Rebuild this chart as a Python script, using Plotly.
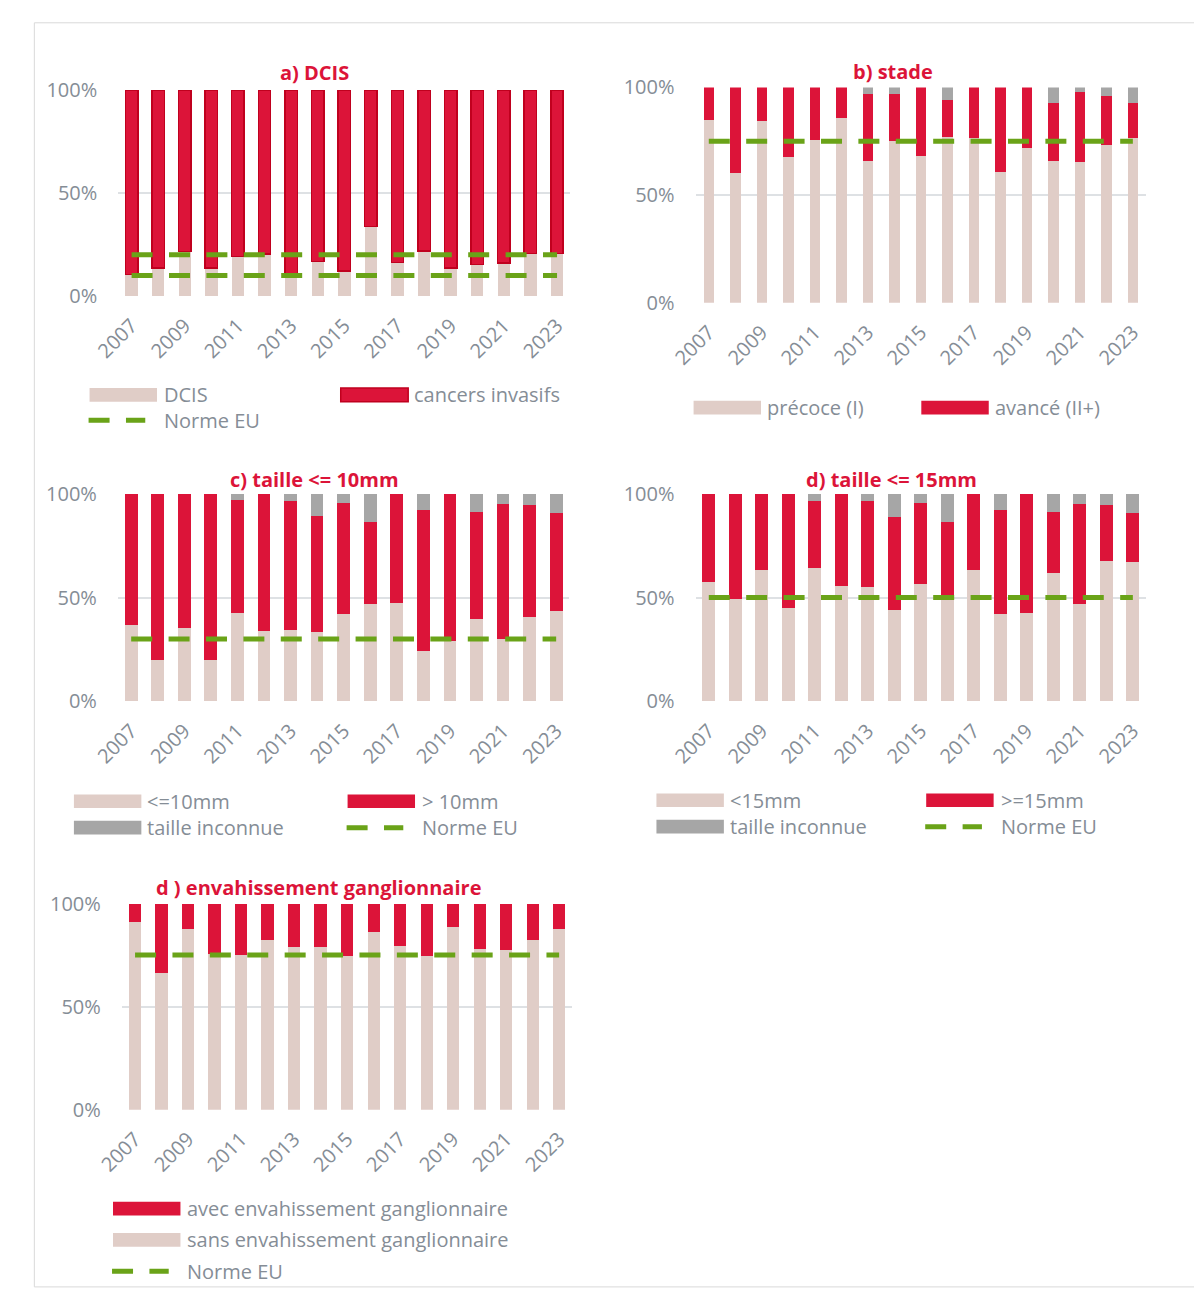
import plotly.graph_objects as go

# ---------------- data ----------------
years = list(range(2007, 2024))
tick_years = [2007, 2009, 2011, 2013, 2015, 2017, 2019, 2021, 2023]
y_ticks = [0, 50, 100]
y_tick_text = ["0%", "50%", "100%"]

# a) DCIS
dcis = [10.5, 13.7, 21.6, 13.7, 19.2, 20.3, 10.0, 16.8, 12.1, 33.8, 16.2, 21.9, 13.5, 15.4, 15.9, 20.6, 20.5]
invasifs = [89.5, 86.3, 78.4, 86.3, 80.8, 79.7, 90.0, 83.2, 87.9, 66.2, 83.8, 78.1, 86.5, 84.6, 84.1, 79.4, 79.5]
norme_a_low = 10
norme_a_high = 20

# b) stade
precoce = [84.9, 60.4, 84.3, 67.6, 75.8, 85.9, 65.7, 75.0, 68.4, 76.9, 76.4, 60.8, 71.7, 65.7, 65.4, 73.4, 76.4]
avance = [15.1, 39.6, 15.7, 32.4, 24.2, 14.1, 31.4, 21.8, 31.6, 17.2, 23.6, 39.2, 28.3, 27.0, 32.5, 22.5, 16.3]
inconnu_b = [0, 0, 0, 0, 0, 0, 2.9, 3.2, 0, 5.9, 0, 0, 0, 7.3, 2.1, 4.1, 7.3]
norme_b = 75

# c) taille <= 10mm
le10 = [36.7, 20.1, 35.3, 20.1, 42.4, 33.9, 34.5, 33.6, 42.1, 47.1, 47.3, 24.2, 29.0, 39.9, 30.0, 40.8, 43.3]
gt10 = [63.3, 79.9, 64.7, 79.9, 54.5, 66.1, 62.0, 55.6, 53.7, 39.2, 52.7, 68.1, 71.0, 51.5, 65.1, 53.7, 47.3]
inconnu_c = [0, 0, 0, 0, 3.1, 0, 3.5, 10.8, 4.2, 13.7, 0, 7.7, 0, 8.6, 4.9, 5.5, 9.4]
norme_c = 30

# d) taille <= 15mm
lt15 = [57.7, 49.4, 63.3, 45.1, 64.3, 55.8, 55.2, 44.2, 56.4, 51.4, 63.3, 42.2, 42.5, 61.6, 47.0, 67.7, 67.1]
ge15 = [42.3, 50.6, 36.7, 54.9, 32.4, 44.2, 41.4, 44.8, 39.4, 34.8, 36.7, 50.1, 57.5, 29.8, 48.0, 26.8, 23.5]
inconnu_d = [0, 0, 0, 0, 3.3, 0, 3.4, 11.0, 4.2, 13.8, 0, 7.7, 0, 8.6, 5.0, 5.5, 9.4]
norme_d = 50

# e) envahissement ganglionnaire
sans_env = [90.9, 66.2, 87.5, 75.5, 75.1, 82.1, 79.0, 78.7, 74.4, 86.3, 79.5, 74.4, 88.7, 77.8, 77.6, 82.4, 87.8]
avec_env = [9.1, 33.8, 12.5, 24.5, 24.9, 17.9, 21.0, 21.3, 25.6, 13.7, 20.5, 25.6, 11.3, 22.2, 22.4, 17.6, 12.2]
norme_e = 75

# ---------------- style ----------------
W, H = 1194, 1295
FONT = "Open Sans"
TXT = "#858D96"
RED = "#DC1439"
RED_EDGE = "#C0001E"
BEIGE = "#E0CDC7"
GREY = "#A6A6A6"
GREEN = "#6AA318"
GRID = "#DEE1E4"
DASH = "21px,16.4px"


def fx(x):
    return x / W


def fy(y):
    return 1 - y / H


fig = go.Figure()

# panel geometry in pixels: (x0, x1, ytop, ybottom)
geo = {
    1: (93.4, 555.9, 77.5, 288),
    2: (684, 1145, 75, 295),
    3: (93, 555, 490, 702),
    4: (684, 1145, 490, 702),
    5: (97, 558, 908.5, 1119),
}


def ax(i):
    return ("x" if i == 1 else f"x{i}"), ("y" if i == 1 else f"y{i}")


def bar(i, y, color, name, width, edge=None):
    xa, ya = ax(i)
    fig.add_trace(go.Bar(
        x=years, y=y, name=name, xaxis=xa, yaxis=ya, width=width,
        marker=dict(color=color, line=dict(color=edge or color, width=1.5 if edge else 0)),
        showlegend=False))


def norme(i, v):
    xa, ya = ax(i)
    fig.add_trace(go.Scatter(
        x=years, y=[v] * len(years), mode="lines", name="Norme EU", xaxis=xa, yaxis=ya,
        line=dict(color=GREEN, width=5, dash=DASH), showlegend=False))


bar(1, dcis, BEIGE, "DCIS", 0.467)
bar(1, invasifs, RED, "cancers invasifs", 0.467, edge=RED_EDGE)
norme(1, norme_a_low)
norme(1, norme_a_high)

bar(2, precoce, BEIGE, "précoce (I)", 0.395)
bar(2, avance, RED, "avancé (II+)", 0.395)
bar(2, inconnu_b, GREY, "inconnu", 0.395)
norme(2, norme_b)

bar(3, le10, BEIGE, "<=10mm", 0.48)
bar(3, gt10, RED, "> 10mm", 0.48)
bar(3, inconnu_c, GREY, "taille inconnue", 0.48)
norme(3, norme_c)

bar(4, lt15, BEIGE, "<15mm", 0.48)
bar(4, ge15, RED, ">=15mm", 0.48)
bar(4, inconnu_d, GREY, "taille inconnue", 0.48)
norme(4, norme_d)

bar(5, sans_env, BEIGE, "sans envahissement ganglionnaire", 0.46)
bar(5, avec_env, RED, "avec envahissement ganglionnaire", 0.46)
norme(5, norme_e)

layout = dict(
    width=W, height=H, margin=dict(l=0, r=0, t=0, b=0),
    paper_bgcolor="white", plot_bgcolor="white",
    barmode="stack", showlegend=False,
    font=dict(family=FONT, color=TXT, size=20),
)
for i, (x0, x1, yt, yb) in geo.items():
    sx = "" if i == 1 else str(i)
    layout["xaxis" + sx] = dict(
        domain=[fx(x0), fx(x1)], anchor="y" + sx, range=[2006.5, 2023.5],
        tickmode="array", tickvals=tick_years, ticktext=[str(t) for t in tick_years],
        tickangle=-45, tickfont=dict(size=20, color=TXT, family=FONT),
        showgrid=False, zeroline=False, showline=False, ticks="",
        ticklabelstandoff=13, fixedrange=True)
    layout["yaxis" + sx] = dict(
        domain=[fy(yb), fy(yt)], anchor="x" + sx, range=[0, 100],
        tickmode="array", tickvals=y_ticks, ticktext=y_tick_text,
        tickfont=dict(size=20, color=TXT, family=FONT),
        showgrid=True, gridcolor=GRID, gridwidth=2, zeroline=False, showline=False,
        ticks="", ticklabelstandoff=20, fixedrange=True)
fig.update_layout(**layout)

# titles
titles = [
    ("a) DCIS", 294, 60),
    ("b) stade", 886, 59),
    ("c) taille <= 10mm", 294, 475),
    ("d) taille <= 15mm", 884, 475),
    ("d ) envahissement ganglionnaire", 298, 892),
]
for t, x, y in titles:
    fig.add_annotation(text=f"<b>{t}</b>", x=fx(x), y=fy(y), xref="paper", yref="paper",
                       showarrow=False, xanchor="center", yanchor="middle",
                       font=dict(family=FONT, size=20, color=RED))

# legends (drawn in pixel positions)
shapes = []


def leg_rect(x0, yc, color, edge=None):
    shapes.append(dict(type="rect", xref="paper", yref="paper",
                       x0=fx(x0), x1=fx(x0 + 69), y0=fy(yc - 7), y1=fy(yc + 7),
                       fillcolor=color, line=dict(color=edge or color, width=1.5 if edge else 0)))


def leg_dash(x0, yc):
    shapes.append(dict(type="line", xref="paper", yref="paper",
                       x0=fx(x0), x1=fx(x0 + 58), y0=fy(yc), y1=fy(yc),
                       line=dict(color=GREEN, width=5, dash=DASH)))


def leg_text(x, yc, text):
    fig.add_annotation(text=text, x=fx(x), y=fy(yc), xref="paper", yref="paper",
                       showarrow=False, xanchor="left", yanchor="middle",
                       font=dict(family=FONT, size=20, color=TXT))


# a
leg_rect(64, 389, BEIGE); leg_text(138, 389, "DCIS")
leg_rect(321, 389, RED, RED_EDGE); leg_text(394, 389, "cancers invasifs")
leg_dash(63, 415); leg_text(138, 415, "Norme EU")
# b
leg_rect(682, 402, BEIGE); leg_text(755, 402, "précoce (I)")
leg_rect(915, 402, RED); leg_text(988, 402, "avancé (II+)")
# c
leg_rect(48, 804, BEIGE); leg_text(121, 804, "<=10mm")
leg_rect(328, 804, RED); leg_text(402, 804, "> 10mm")
leg_rect(48, 831, GREY); leg_text(121, 831, "taille inconnue")
leg_dash(327, 831); leg_text(402, 831, "Norme EU")
# d
leg_rect(644, 803, BEIGE); leg_text(717, 803, "<15mm")
leg_rect(920, 803, RED); leg_text(994, 803, ">=15mm")
leg_rect(644, 830, GREY); leg_text(717, 830, "taille inconnue")
leg_dash(919, 830); leg_text(994, 830, "Norme EU")
# e
leg_rect(88, 1220, RED); leg_text(162, 1220, "avec envahissement ganglionnaire")
leg_rect(88, 1252, BEIGE); leg_text(162, 1252, "sans envahissement ganglionnaire")
leg_dash(87, 1284); leg_text(162, 1284, "Norme EU")

# outer frame
shapes.append(dict(type="rect", xref="paper", yref="paper", x0=fx(7.5), x1=fx(1200),
                   y0=fy(1300), y1=fy(9), line=dict(color="#D9D9D9", width=1),
                   fillcolor="rgba(0,0,0,0)", layer="below"))

fig.update_layout(shapes=shapes)
fig.write_html("out.html")
